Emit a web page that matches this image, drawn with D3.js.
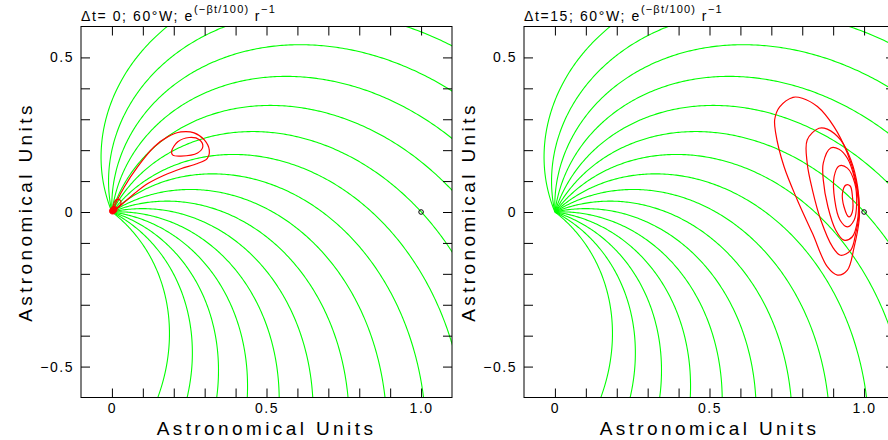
<!DOCTYPE html>
<html>
<head>
<meta charset="utf-8">
<script src="https://cdn.jsdelivr.net/npm/d3@7"></script>
<style>
body { margin: 0; background: #fff; }
svg { display: block; font-family: "Liberation Sans", Arial, sans-serif; }
.tick text { font-size: 14px; letter-spacing: 1.5px; fill: #000; }
.tick line { stroke: #000; }
</style>
</head>
<body>
<svg id="chart" width="888" height="440"></svg>
<script>
// panel titles
var panelLags = ["\u0394t= 0", "\u0394t=15"];
var titleMid = "; 60\u00b0W; e";
var titleSup1 = "(\u2212\u03b2t/100)";
var titleSup2 = "\u22121";
var axisTitle = "Astronomical Units";

// tick labels (ticks every 0.1 AU)
var xTickLabels = [0, 0.5, 1.0];
var yTickLabels = [-0.5, 0, 0.5];
var xMinorTicks = [0, 0.1, 0.2, 0.3, 0.4, 0.5, 0.6, 0.7, 0.8, 0.9, 1.0];
var yMinorTicks = [-0.5, -0.4, -0.3, -0.2, -0.1, 0, 0.1, 0.2, 0.3, 0.4, 0.5];

// Parker spiral field lines: footpoint direction (deg) and winding (rad per AU)
var footLongitudes = [-37.5, -27.5, -17.5, -7.5, 2.5, 12.5, 22.5, 32.5, 42.5,
                      52.5, 62.5, 72.5, 82.5, 92.5, 102.5, 112.5];
var windingPerAU = 1.09;
var earth = [1.0, 0.0];

// density contours, [x AU, y AU]
var contoursT0 = [
  [[0.008,0.016],[0.040,0.081],[0.083,0.146],[0.137,0.211],[0.180,0.243],[0.223,0.259],
   [0.266,0.256],[0.299,0.233],[0.315,0.200],[0.308,0.173],[0.277,0.157],[0.223,0.140],
   [0.169,0.119],[0.116,0.092],[0.072,0.059],[0.029,0.022],[0.007,0.006]],
  [[0.193,0.196],[0.213,0.227],[0.250,0.241],[0.283,0.234],[0.294,0.211],[0.277,0.191],
   [0.223,0.181],[0.197,0.184]],
  [[0.004,0.017],[0.014,0.040],[0.026,0.039],[0.029,0.027],[0.015,0.013]]
];
var coreT0 = [[-0.008,0.004],[0.002,0.018],[0.014,0.016],[0.016,0.004],[0.006,-0.006],[-0.004,-0.005]];

var contoursT15 = [
  [[0.770,0.371],[0.727,0.340],[0.711,0.300],[0.714,0.256],[0.741,0.147],[0.784,0.039],[0.833,-0.069],
   [0.881,-0.177],[0.914,-0.204],[0.946,-0.188],[0.968,-0.113],[0.984,-0.026],[0.984,0.028],
   [0.973,0.104],[0.946,0.190],[0.902,0.277],[0.849,0.341],[0.800,0.368]],
  [[0.854,0.271],[0.816,0.233],[0.816,0.158],[0.833,0.071],[0.860,-0.026],[0.898,-0.113],
   [0.924,-0.140],[0.957,-0.123],[0.973,-0.069],[0.984,-0.004],[0.979,0.082],[0.957,0.169],
   [0.924,0.233],[0.881,0.268]],
  [[0.892,0.207],[0.868,0.158],[0.868,0.104],[0.883,0.017],[0.908,-0.058],[0.935,-0.091],
   [0.962,-0.080],[0.979,-0.026],[0.981,0.039],[0.968,0.114],[0.946,0.174],[0.919,0.203]],
  [[0.919,0.149],[0.903,0.114],[0.905,0.039],[0.922,-0.026],[0.946,-0.048],[0.968,-0.026],
   [0.976,0.028],[0.970,0.093],[0.946,0.142]],
  [[0.941,0.087],[0.930,0.060],[0.935,0.017],[0.951,-0.016],[0.962,0.000],[0.962,0.054],
   [0.955,0.084]]
];

var panels = [
  {lag: panelLags[0], left: 81, contours: contoursT0, core: coreT0},
  {lag: panelLags[1], left: 524, contours: contoursT15, core: null}
];

var size = 371, top0 = 26.5;
var svg = d3.select("#chart");

var x = d3.scaleLinear().domain([-0.1, 1.1]).range([0, size]);
var y = d3.scaleLinear().domain([-0.6, 0.6]).range([size, 0]);

var line = d3.line().x(function(d) { return x(d[0]); }).y(function(d) { return y(d[1]); });
var loop = d3.line().x(function(d) { return x(d[0]); }).y(function(d) { return y(d[1]); })
  .curve(d3.curveCatmullRomClosed.alpha(0.5));

// sample each spiral r = (phi0 - phi) / k
function spiral(deg) {
  var pts = [];
  for (var r = 0; r <= 2.0; r += 0.005) {
    var phi = deg * Math.PI / 180 - windingPerAU * r;
    pts.push([r * Math.cos(phi), r * Math.sin(phi)]);
  }
  return pts;
}

svg.append("defs").append("clipPath").attr("id", "plotclip")
  .append("rect").attr("width", size).attr("height", size);

function fmt(d) {
  return d === 0 ? "0" : (d < 0 ? "\u2212" : "") + Math.abs(d).toFixed(1);
}
function isLabel(list, d) {
  return list.some(function(v) { return Math.abs(v - d) < 1e-6; });
}

panels.forEach(function(p) {
  var g = svg.append("g").attr("transform", "translate(" + p.left + "," + top0 + ")");

  var plot = g.append("g").attr("clip-path", "url(#plotclip)");
  plot.selectAll("path.field")
    .data(footLongitudes)
    .enter().append("path")
    .attr("class", "field")
    .attr("d", function(d) { return line(spiral(d)); })
    .attr("fill", "none")
    .attr("stroke", "#00ff00")
    .attr("stroke-width", 1.1);

  plot.selectAll("path.cont")
    .data(p.contours)
    .enter().append("path")
    .attr("class", "cont")
    .attr("d", loop)
    .attr("fill", "none")
    .attr("stroke", "#ff0000")
    .attr("stroke-width", 1.2);

  if (p.core) {
    plot.append("path").attr("d", loop(p.core))
      .attr("fill", "#ff0000").attr("stroke", "#ff0000").attr("stroke-width", 1);
  }

  plot.append("circle")
    .attr("cx", x(earth[0])).attr("cy", y(earth[1])).attr("r", 2.3)
    .attr("fill", "none").attr("stroke", "#000").attr("stroke-width", 1);

  // axes, ticks pointing inward
  g.append("g").attr("transform", "translate(0," + size + ")")
    .call(d3.axisBottom(x).tickValues(xMinorTicks).tickSizeInner(-9).tickSizeOuter(0).tickPadding(6)
      .tickFormat(function(d) { return isLabel(xTickLabels, d) ? fmt(d) : ""; }))
    .call(function(a) { a.select(".domain").remove(); a.selectAll("text").attr("font-family", null).attr("font-size", null); });
  g.append("g")
    .call(d3.axisTop(x).tickValues(xMinorTicks).tickSizeInner(-9).tickSizeOuter(0).tickFormat(""))
    .call(function(a) { a.select(".domain").remove(); });
  g.append("g")
    .call(d3.axisLeft(y).tickValues(yMinorTicks).tickSizeInner(-9).tickSizeOuter(0).tickPadding(7)
      .tickFormat(function(d) { return isLabel(yTickLabels, d) ? fmt(d) : ""; }))
    .call(function(a) { a.select(".domain").remove(); a.selectAll("text").attr("font-family", null).attr("font-size", null); });
  g.append("g").attr("transform", "translate(" + size + ",0)")
    .call(d3.axisRight(y).tickValues(yMinorTicks).tickSizeInner(-9).tickSizeOuter(0).tickFormat(""))
    .call(function(a) { a.select(".domain").remove(); });

  g.append("rect").attr("width", size).attr("height", size)
    .attr("fill", "none").attr("stroke", "#000").attr("stroke-width", 1);

  // title with superscripts
  var t = g.append("text").attr("x", 0).attr("y", -6)
    .attr("font-size", 14).attr("letter-spacing", 1.6).attr("fill", "#000");
  t.append("tspan").text(p.lag + titleMid);
  t.append("tspan").attr("dy", -8).attr("font-size", 11).attr("letter-spacing", 1.2).text(titleSup1);
  t.append("tspan").attr("dy", 8).text(" r");
  t.append("tspan").attr("dy", -8).attr("font-size", 11).attr("letter-spacing", 1.2).text(titleSup2);

  g.append("text")
    .attr("x", size / 2).attr("y", size + 37)
    .attr("text-anchor", "middle")
    .attr("font-size", 19).attr("letter-spacing", 3.4)
    .attr("fill", "#000")
    .text(axisTitle);

  g.append("text")
    .attr("transform", "translate(-49," + (size / 2) + ")rotate(-90)")
    .attr("text-anchor", "middle")
    .attr("font-size", 19).attr("letter-spacing", 3.4)
    .attr("fill", "#000")
    .text(axisTitle);
});
</script>
</body>
</html>
